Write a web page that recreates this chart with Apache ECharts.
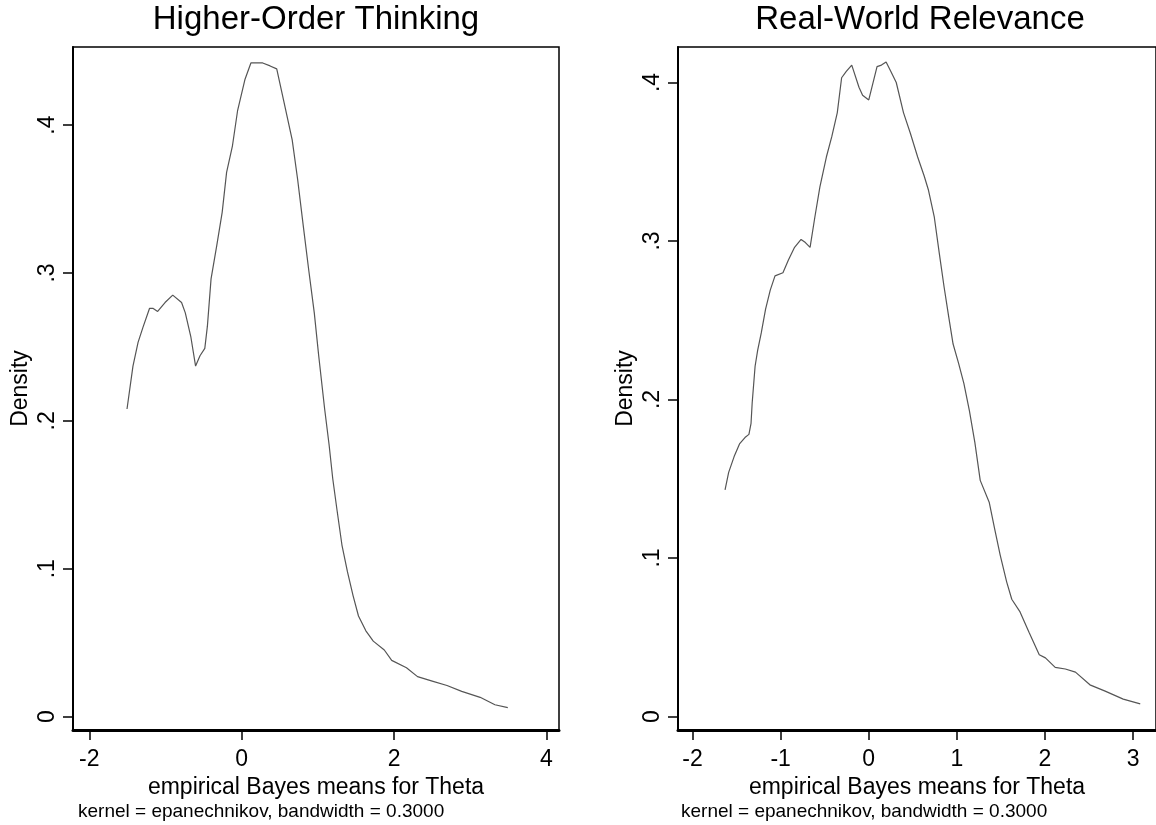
<!DOCTYPE html>
<html>
<head>
<meta charset="utf-8">
<title>Kernel density</title>
<script src="https://cdn.jsdelivr.net/npm/echarts@6.0.0/dist/echarts.min.js"></script>
<style>
  html, body { margin: 0; padding: 0; background: #fff; }
  #main { width: 1156px; height: 825px; }
</style>
</head>
<body>
<div id="main"></div>
<script>
// panel titles
var panelTitles = ['Higher-Order Thinking', 'Real-World Relevance']
var xTitle = 'empirical Bayes means for Theta'
var yTitle = 'Density'
var noteText = 'kernel = epanechnikov, bandwidth = 0.3000'

// tick values
var hotXTicks = [-2, 0, 2, 4]
var rwrXTicks = [-2, -1, 0, 1, 2, 3]
var yTicks = [0, 0.1, 0.2, 0.3, 0.4]

// Higher-Order Thinking density
var hotX = [-1.505, -1.427, -1.36, -1.297, -1.21, -1.161, -1.103, -1.006, -0.905, -0.789,
  -0.74, -0.668, -0.605, -0.547, -0.484, -0.45, -0.402, -0.329, -0.256, -0.198,
  -0.121, -0.053, 0.044, 0.121, 0.276, 0.373, 0.46, 0.566, 0.663, 0.735,
  0.808, 0.88, 0.953, 1.011, 1.089, 1.147, 1.195, 1.253, 1.316, 1.388,
  1.461, 1.533, 1.63, 1.727, 1.872, 1.969, 2.163, 2.308, 2.501, 2.695,
  2.888, 3.13, 3.324, 3.493]
var hotY = [0.208, 0.237, 0.253, 0.263, 0.276, 0.276, 0.274, 0.280, 0.285, 0.280,
  0.273, 0.257, 0.237, 0.244, 0.249, 0.264, 0.296, 0.318, 0.341, 0.368,
  0.386, 0.410, 0.431, 0.442, 0.442, 0.440, 0.438, 0.413, 0.390, 0.363,
  0.332, 0.302, 0.273, 0.244, 0.208, 0.184, 0.161, 0.139, 0.116, 0.098,
  0.082, 0.068, 0.058, 0.051, 0.045, 0.038, 0.033, 0.027, 0.024, 0.021,
  0.017, 0.013, 0.008, 0.006]

// Real-World Relevance density
var rwrX = [-1.631, -1.59, -1.528, -1.467, -1.405, -1.36, -1.336, -1.323, -1.29, -1.261,
  -1.22, -1.171, -1.118, -1.064, -0.974, -0.912, -0.842, -0.768, -0.719, -0.666,
  -0.612, -0.555, -0.481, -0.419, -0.357, -0.308, -0.255, -0.193, -0.111, -0.07,
  0, 0.094, 0.144, 0.197, 0.251, 0.312, 0.394, 0.472, 0.555, 0.629,
  0.678, 0.744, 0.801, 0.855, 0.908, 0.957, 1.019, 1.08, 1.142, 1.204,
  1.265, 1.368, 1.43, 1.491, 1.565, 1.623, 1.717, 1.82, 1.935, 2.005,
  2.116, 2.231, 2.346, 2.51, 2.683, 2.888, 3.081]
var rwrY = [0.143, 0.154, 0.164, 0.172, 0.176, 0.178, 0.185, 0.198, 0.221, 0.231,
  0.242, 0.257, 0.269, 0.278, 0.280, 0.288, 0.296, 0.301, 0.299, 0.296,
  0.315, 0.334, 0.353, 0.366, 0.381, 0.403, 0.407, 0.411, 0.397, 0.392,
  0.389, 0.410, 0.411, 0.413, 0.407, 0.400, 0.381, 0.368, 0.353, 0.341,
  0.332, 0.315, 0.292, 0.271, 0.252, 0.235, 0.223, 0.210, 0.193, 0.173,
  0.149, 0.135, 0.118, 0.102, 0.085, 0.074, 0.066, 0.053, 0.039, 0.037,
  0.031, 0.030, 0.028, 0.020, 0.016, 0.011, 0.008]

function zip (xs, ys) {
  var out = []
  for (var i = 0; i < xs.length; i++) {
    out.push([xs[i], ys[i]])
  }
  return out
}

var font = 'Liberation Sans, Arial, sans-serif'

function yLabel (v) {
  if (v === 0) return '0'
  return String(Math.round(v * 10) / 10).replace(/^0/, '')
}

function makeXAxis (idx, min, max, ticks) {
  return {
    type: 'value',
    gridIndex: idx,
    min: min,
    max: max,
    name: xTitle,
    nameLocation: 'middle',
    nameGap: 39,
    nameTextStyle: { color: '#000', fontSize: 23, fontFamily: font },
    axisLine: { show: true, onZero: false, lineStyle: { color: '#000', width: 3 } },
    axisTick: { show: true, length: 10, customValues: ticks, lineStyle: { color: '#000', width: 1.5 } },
    axisLabel: { customValues: ticks, margin: 18, color: '#000', fontSize: 23, fontFamily: font },
    splitLine: { show: false }
  }
}

function makeYAxis (idx, min, max) {
  return {
    type: 'value',
    gridIndex: idx,
    min: min,
    max: max,
    name: yTitle,
    nameLocation: 'middle',
    nameRotate: 90,
    nameGap: 41,
    nameTextStyle: { color: '#000', fontSize: 23, fontFamily: font },
    axisLine: { show: true, onZero: false, lineStyle: { color: '#000', width: 2 } },
    axisTick: { show: true, length: 10, customValues: yTicks, lineStyle: { color: '#000', width: 1.5 } },
    axisLabel: {
      customValues: yTicks,
      rotate: 90,
      margin: 14,
      color: '#000',
      fontSize: 23,
      fontFamily: font,
      formatter: yLabel
    },
    splitLine: { show: false }
  }
}

var titleStyle = { color: '#000', fontSize: 33, fontWeight: 'normal', fontFamily: font }
var noteStyle = { color: '#000', fontSize: 19, fontWeight: 'normal', fontFamily: font }

var chart = echarts.init(document.getElementById('main'))
var option = {
  backgroundColor: '#fff',
  animation: false,
  title: [
    { text: panelTitles[0], left: 316, top: 3, padding: 0, textAlign: 'center', textStyle: titleStyle },
    { text: panelTitles[1], left: 920, top: 3, padding: 0, textAlign: 'center', textStyle: titleStyle },
    { text: noteText, left: 78, top: 802, padding: 0, textStyle: noteStyle },
    { text: noteText, left: 681, top: 802, padding: 0, textStyle: noteStyle }
  ],
  grid: [
    { left: 73, top: 47, width: 486, height: 683, show: true, borderColor: '#000', borderWidth: 1.5, backgroundColor: '#fff' },
    { left: 678, top: 47, width: 486, height: 683, show: true, borderColor: '#000', borderWidth: 1.5, backgroundColor: '#fff' }
  ],
  xAxis: [
    makeXAxis(0, -2.214, 4.165, hotXTicks),
    makeXAxis(1, -2.165, 3.26, rwrXTicks)
  ],
  yAxis: [
    makeYAxis(0, -0.0091, 0.4528),
    makeYAxis(1, -0.0085, 0.4224)
  ],
  series: [
    {
      type: 'line',
      xAxisIndex: 0,
      yAxisIndex: 0,
      showSymbol: false,
      lineStyle: { color: '#555', width: 1.2 },
      data: zip(hotX, hotY)
    },
    {
      type: 'line',
      xAxisIndex: 1,
      yAxisIndex: 1,
      showSymbol: false,
      lineStyle: { color: '#555', width: 1.2 },
      data: zip(rwrX, rwrY)
    }
  ]
}
chart.setOption(option)
</script>
</body>
</html>
